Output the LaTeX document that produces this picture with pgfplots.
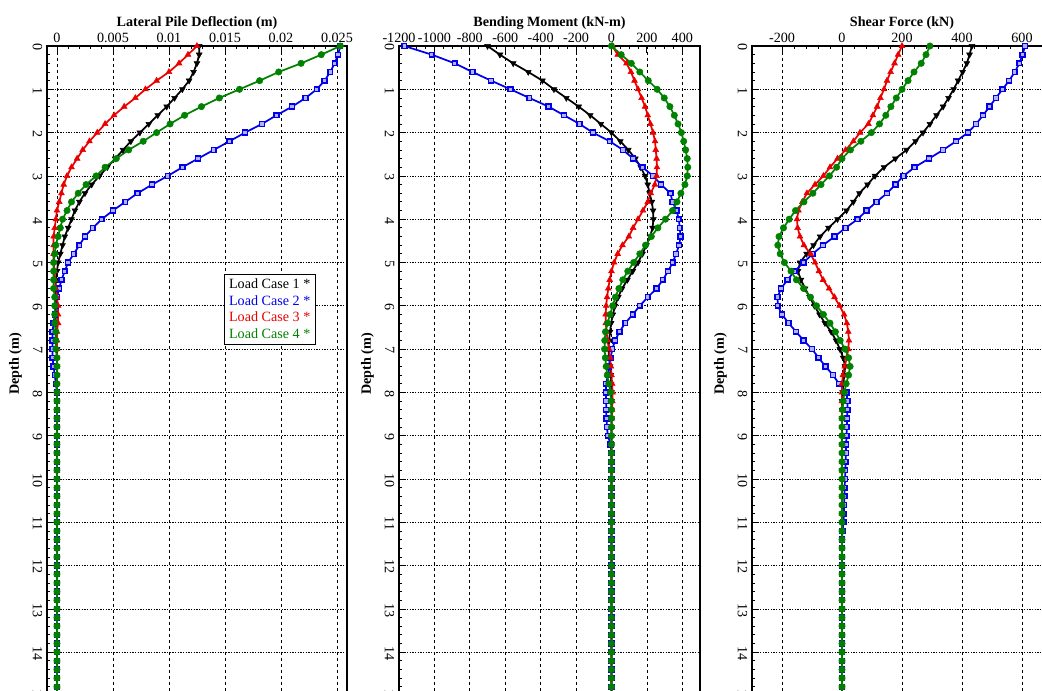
\documentclass[border=0pt]{standalone}
\usepackage{pgfplots}
\pgfplotsset{compat=1.18}
\usepackage{pgfplotstable}
\usepackage{fontspec}
\setmainfont{Liberation Serif}
\definecolor{lcblue}{RGB}{0,0,235}
\definecolor{lcred}{RGB}{235,0,0}
\definecolor{lcgreen}{RGB}{0,130,0}

% depth (m), Load Case 1..4 : lateral deflection (m)
\pgfplotstableread{
d c1 c2 c3 c4
0.0 0.0127 0.0253 0.0125 0.0253
0.2 0.0127 0.0251 0.0117 0.0236
0.4 0.0125 0.0248 0.0109 0.0218
0.6 0.0122 0.0244 0.0100 0.0198
0.8 0.0118 0.0239 0.0089 0.0181
1.0 0.0112 0.0232 0.0079 0.0163
1.2 0.0105 0.0222 0.0070 0.0145
1.4 0.0098 0.0210 0.0060 0.0129
1.6 0.0090 0.0196 0.0051 0.0114
1.8 0.0082 0.0183 0.0043 0.0101
2.0 0.0074 0.0168 0.0036 0.0089
2.2 0.0066 0.0154 0.0029 0.0077
2.4 0.0059 0.0140 0.0023 0.0064
2.6 0.0052 0.0126 0.0018 0.0053
2.8 0.0045 0.0112 0.0013 0.0043
3.0 0.0038 0.0099 0.0009 0.0035
3.2 0.0031 0.0085 0.0006 0.0026
3.4 0.0025 0.0072 0.0004 0.0019
3.6 0.0020 0.0061 0.0002 0.0013
3.8 0.0016 0.0050 0.0000 0.0009
4.0 0.0013 0.0040 -0.0001 0.0005
4.2 0.0010 0.0032 -0.0002 0.0003
4.4 0.0007 0.0025 -0.0003 0.0001
4.6 0.0005 0.0020 -0.0003 -0.0001
4.8 0.0003 0.0015 -0.0003 -0.0002
5.0 0.0001 0.0010 -0.0003 -0.0003
5.2 0.0000 0.0007 -0.0002 -0.0003
5.4 -0.0001 0.0004 -0.0002 -0.0003
5.6 -0.0001 0.0002 -0.0001 -0.0003
5.8 -0.0001 0.0000 0.0000 -0.0002
6.0 -0.0001 -0.0001 0.0001 -0.0002
6.2 -0.0001 -0.0002 0.0001 -0.0002
6.4 -0.0001 -0.0003 0.0001 -0.0002
6.6 -0.0001 -0.0004 0.0000 -0.0001
6.8 -0.0001 -0.0004 0.0000 -0.0001
7.0 0.0000 -0.0004 0.0000 -0.0001
7.2 0.0000 -0.0004 0.0000 0.0000
7.4 0.0000 -0.0003 0.0000 0.0000
7.6 0.0000 -0.0002 0.0000 0.0000
7.8 0.0000 -0.0001 0.0000 0.0000
8.0 0 0 0 0
8.2 0 0 0 0
8.4 0 0 0 0
8.6 0 0 0 0
8.8 0 0 0 0
9.0 0 0 0 0
9.2 0 0 0 0
9.4 0 0 0 0
9.6 0 0 0 0
9.8 0 0 0 0
10.0 0 0 0 0
10.2 0 0 0 0
10.4 0 0 0 0
10.6 0 0 0 0
10.8 0 0 0 0
11.0 0 0 0 0
11.2 0 0 0 0
11.4 0 0 0 0
11.6 0 0 0 0
11.8 0 0 0 0
12.0 0 0 0 0
12.2 0 0 0 0
12.4 0 0 0 0
12.6 0 0 0 0
12.8 0 0 0 0
13.0 0 0 0 0
13.2 0 0 0 0
13.4 0 0 0 0
13.6 0 0 0 0
13.8 0 0 0 0
14.0 0 0 0 0
14.2 0 0 0 0
14.4 0 0 0 0
14.6 0 0 0 0
14.8 0 0 0 0
15.0 0 0 0 0
15.2 0 0 0 0
}\defl

% bending moment (kN-m)
\pgfplotstableread{
d c1 c2 c3 c4
0.0 -700 -1170 5 0
0.2 -630 -1015 35 55
0.4 -555 -885 85 112
0.6 -470 -785 110 160
0.8 -390 -680 130 208
1.0 -325 -570 150 258
1.2 -255 -464 170 298
1.4 -185 -355 190 330
1.6 -120 -268 205 355
1.8 -60 -180 220 376
2.0 0 -105 235 395
2.2 50 -10 246 408
2.4 95 65 250 419
2.6 135 122 255 428
2.8 165 175 257 431
3.0 190 235 255 428
3.2 205 280 245 415
3.4 215 333 222 392
3.6 228 345 205 370
3.8 235 368 178 345
4.0 237 380 150 305
4.2 232 386 122 262
4.4 218 390 98 225
4.6 198 382 62 192
4.8 175 365 35 160
5.0 150 346 15 125
5.2 120 320 0 92
5.4 90 290 -10 64
5.6 60 255 -18 42
5.8 38 205 -25 22
6.0 20 160 -30 7
6.2 8 120 -33 -8
6.4 -2 78 -32 -22
6.6 -8 45 -28 -34
6.8 -14 20 -22 -38
7.0 -17 5 -14 -39
7.2 -14 -5 -8 -35
7.4 -8 -12 -3 -30
7.6 -4 -20 0 -24
7.8 -2 -30 4 -15
8.0 0 -32 6 -6
8.2 0 -30 5 -2
8.4 0 -30 3 0
8.6 0 -28 2 0
8.8 0 -26 1 0
9.0 0 -20 0 0
9.2 0 -5 0 0
9.4 0 0 0 0
9.6 0 0 0 0
9.8 0 0 0 0
10.0 0 0 0 0
10.2 0 0 0 0
10.4 0 0 0 0
10.6 0 0 0 0
10.8 0 0 0 0
11.0 0 0 0 0
11.2 0 0 0 0
11.4 0 0 0 0
11.6 0 0 0 0
11.8 0 0 0 0
12.0 0 0 0 0
12.2 0 0 0 0
12.4 0 0 0 0
12.6 0 0 0 0
12.8 0 0 0 0
13.0 0 0 0 0
13.2 0 0 0 0
13.4 0 0 0 0
13.6 0 0 0 0
13.8 0 0 0 0
14.0 0 0 0 0
14.2 0 0 0 0
14.4 0 0 0 0
14.6 0 0 0 0
14.8 0 0 0 0
15.0 0 0 0 0
15.2 0 0 0 0
}\mom

% shear force (kN)
\pgfplotstableread{
d c1 c2 c3 c4
0.0 433 610 200 293
0.2 425 602 187 280
0.4 416 591 175 264
0.6 402 576 162 240
0.8 387 557 150 220
1.0 372 535 140 200
1.2 355 513 128 181
1.4 337 492 117 163
1.6 315 470 103 146
1.8 293 447 88 125
2.0 270 420 60 98
2.2 245 380 38 63
2.4 215 337 12 28
2.6 178 290 -15 0
2.8 140 242 -40 -18
3.0 110 205 -62 -42
3.2 85 178 -90 -70
3.4 58 150 -117 -97
3.6 38 115 -132 -127
3.8 15 82 -145 -155
4.0 -15 52 -150 -176
4.2 -45 12 -148 -195
4.4 -73 -25 -140 -210
4.6 -95 -63 -127 -214
4.8 -118 -98 -105 -206
5.0 -140 -128 -90 -192
5.2 -147 -158 -77 -170
5.4 -137 -182 -63 -152
5.6 -123 -203 -43 -128
5.8 -108 -215 -25 -105
6.0 -92 -214 -8 -85
6.2 -75 -200 7 -62
6.4 -57 -178 16 -40
6.6 -36 -153 21 -22
6.8 -20 -128 23 -6
7.0 -7 -100 21 10
7.2 4 -78 16 22
7.4 10 -55 9 27
7.6 8 -30 3 22
7.8 4 -10 0 14
8.0 2 15 0 8
8.2 0 18 0 4
8.4 0 18 0 2
8.6 0 17 0 0
8.8 0 16 0 0
9.0 0 15 0 0
9.2 0 14 0 0
9.4 0 13 0 0
9.6 0 12 0 0
9.8 0 11 0 0
10.0 0 10 0 0
10.2 0 9 0 0
10.4 0 8 0 0
10.6 0 7 0 0
10.8 0 6 0 0
11.0 0 5 0 0
11.2 0 2 0 0
11.4 0 0 0 0
11.6 0 0 0 0
11.8 0 0 0 0
12.0 0 0 0 0
12.2 0 0 0 0
12.4 0 0 0 0
12.6 0 0 0 0
12.8 0 0 0 0
13.0 0 0 0 0
13.2 0 0 0 0
13.4 0 0 0 0
13.6 0 0 0 0
13.8 0 0 0 0
14.0 0 0 0 0
14.2 0 0 0 0
14.4 0 0 0 0
14.6 0 0 0 0
14.8 0 0 0 0
15.0 0 0 0 0
15.2 0 0 0 0
}\shear

\pgfplotsset{
  pilestyle/.style={
    scale only axis, height=519.6pt,
    y dir=reverse, ymin=0, ymax=16, ytick={0,1,...,16},
    minor y tick num=4,
    xtick pos=top, xticklabel pos=top, ytick pos=left,
    tick align=inside,
    scaled x ticks=false,
    major tick length=5pt, minor tick length=2.5pt,
    tick style={black, line width=0.6pt},
    axis line style={line width=0.8pt, black},
    grid=major,
    major x grid style={black, line width=0.5pt, dash pattern=on 2.5pt off 2pt},
    major y grid style={black, line width=0.5pt, dash pattern=on 1pt off 1pt},
    ticklabel style={font=\fontsize{10.6}{12.5}\selectfont},
    xticklabel style={yshift=-1pt},
    yticklabel style={rotate=-90, anchor=north, xshift=1pt},
    xlabel style={font=\bfseries\fontsize{10.6}{12.5}\selectfont, yshift=-4pt},
    ylabel={Depth (m)},
    ylabel style={font=\bfseries\fontsize{10.6}{12.5}\selectfont,
      at={(axis description cs:-0.105,0.541)}, anchor=center},
    /pgf/number format/assume math mode=true,
    clip=false,
    anchor=north west,
  },
  lc1/.style={black, line width=1.3pt, mark=triangle*, mark size=2.5pt,
    mark options={rotate=180, solid, fill=black, line width=0.4pt}},
  lc2/.style={lcblue, line width=1.3pt, mark=square*, mark size=1.8pt,
    mark options={solid, fill=lcblue!30, draw=lcblue, line width=1.1pt}},
  lc3/.style={lcred, line width=1.3pt, mark=triangle*, mark size=2.5pt,
    mark options={solid, fill=lcred, line width=0.4pt}},
  lc4/.style={lcgreen, line width=1.3pt, mark=*, mark size=2.4pt,
    mark options={solid, fill=lcgreen, line width=0.4pt}},
}

\begin{document}
\begin{tikzpicture}
\useasboundingbox (0,0) rectangle (781.5pt,-518.25pt);

\begin{axis}[pilestyle, at={(35.25pt,-34.5pt)}, width=225pt,
  xmin=-0.00089, xmax=0.0259,
  xtick={0,0.005,0.01,0.015,0.02,0.025},
  xticklabels={0,0.005,0.01,0.015,0.02,0.025},
  minor x tick num=4,
  xlabel={Lateral Pile Deflection (m)},
  legend style={at={(0.59,0.671)}, anchor=north west, draw=black,
    line width=0.6pt, font=\fontsize{10.6}{12.5}\selectfont, inner sep=1.5pt,
    row sep=-0.5pt},
  legend cell align=left,
  legend image code/.code={},
]
\addplot[lc1] table[x=c1,y=d]{\defl};
\addlegendentry{\textcolor{black}{Load Case 1 *}}
\addplot[lc2] table[x=c2,y=d]{\defl};
\addlegendentry{\textcolor{lcblue}{Load Case 2 *}}
\addplot[lc3] table[x=c3,y=d]{\defl};
\addlegendentry{\textcolor{lcred}{Load Case 3 *}}
\addplot[lc4] table[x=c4,y=d]{\defl};
\addlegendentry{\textcolor{lcgreen}{Load Case 4 *}}
\end{axis}

\begin{axis}[pilestyle, at={(299.25pt,-34.5pt)}, width=225.75pt,
  xmin=-1200, xmax=500,
  xtick={-1200,-1000,-800,-600,-400,-200,0,200,400},
  xticklabels={-1200,-1000,-800,-600,-400,-200,0,200,400},
  minor x tick num=3,
  xlabel={Bending Moment (kN-m)},
]
\addplot[lc1] table[x=c1,y=d]{\mom};
\addplot[lc2] table[x=c2,y=d]{\mom};
\addplot[lc3] table[x=c3,y=d]{\mom};
\addplot[lc4] table[x=c4,y=d]{\mom};
\end{axis}

\begin{axis}[pilestyle, at={(564pt,-34.5pt)}, width=225pt,
  xmin=-300, xmax=700,
  xtick={-200,0,200,400,600},
  xticklabels={-200,0,200,400,600},
  minor x tick num=4,
  xlabel={Shear Force (kN)},
]
\addplot[lc1] table[x=c1,y=d]{\shear};
\addplot[lc2] table[x=c2,y=d]{\shear};
\addplot[lc3] table[x=c3,y=d]{\shear};
\addplot[lc4] table[x=c4,y=d]{\shear};
\end{axis}
\end{tikzpicture}
\end{document}
